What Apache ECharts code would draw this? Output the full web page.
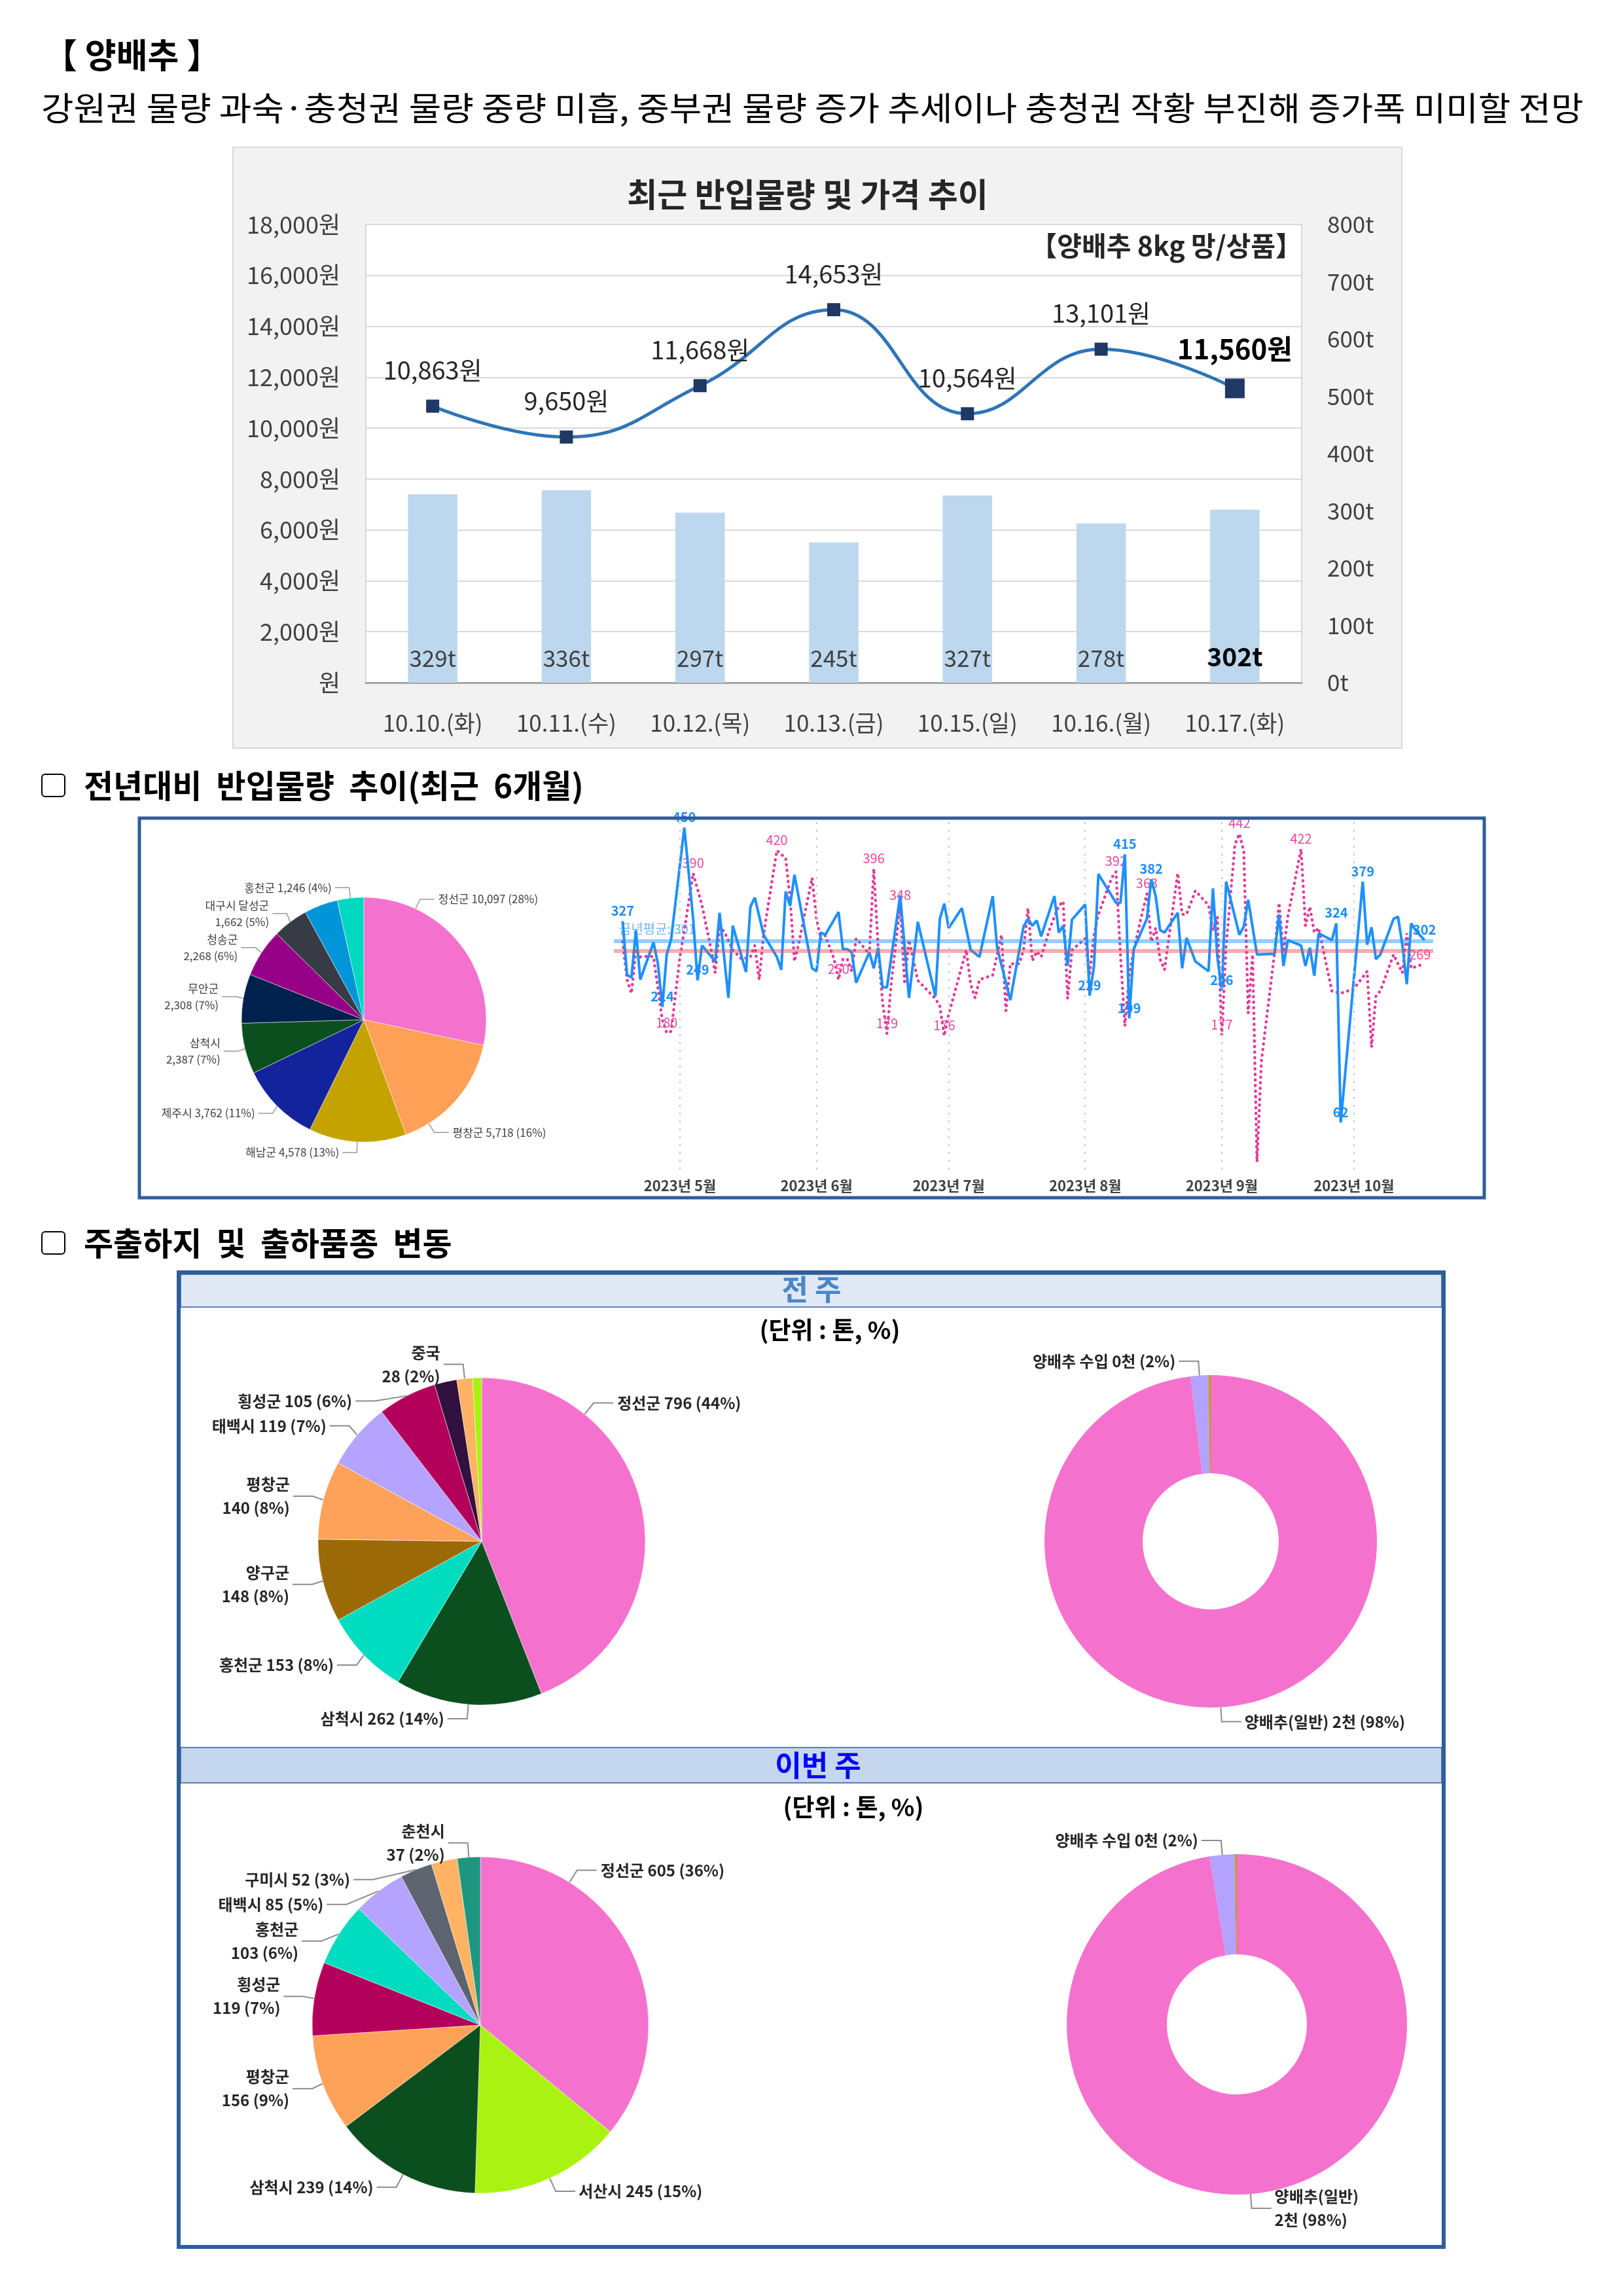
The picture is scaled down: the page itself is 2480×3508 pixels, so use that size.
<!DOCTYPE html>
<html><head><meta charset="utf-8">
<script src="https://cdn.jsdelivr.net/npm/echarts@6/dist/echarts.min.js"></script>
<style>html,body{margin:0;padding:0;background:#fff}#c{width:2480px;height:3508px}</style>
</head><body><div id="c"></div>
<script>
const FONT = '"Noto Sans CJK KR","Noto Sans",sans-serif';

// ---------- top chart: recent arrivals & price ----------
const dates = ['10.10.(화)','10.11.(수)','10.12.(목)','10.13.(금)','10.15.(일)','10.16.(월)','10.17.(화)'];
const prices = [10863, 9650, 11668, 14653, 10564, 13101, 11560];
const volumes = [329, 336, 297, 245, 327, 278, 302];

// ---------- 6-month arrivals: [day index from 2023-04-16, tons] ----------
const monthStarts = [15, 46, 76, 107, 138, 168];
const monthLabels = ['2023년 5월','2023년 6월','2023년 7월','2023년 8월','2023년 9월','2023년 10월'];
const thisYear = [[2,327],[3,256],[4,253],[5,315],[6,250],[9,299],[10,271],[11,214],[12,283],[13,303],[16,450],[18,330],[19,249],[20,295],[23,274],[24,338],[26,226],[27,321],[30,260],[31,346],[32,358],[34,309],[37,280],[38,263],[39,366],[40,347],[41,388],[45,265],[46,261],[47,312],[48,309],[51,339],[52,290],[53,290],[54,286],[55,246],[58,286],[59,265],[60,292],[61,240],[62,240],[65,361],[67,226],[69,326],[73,228],[74,330],[75,350],[76,318],[79,344],[81,289],[83,280],[86,360],[87,292],[90,223],[93,320],[94,330],[95,321],[96,328],[97,307],[100,360],[101,312],[102,321],[103,268],[104,329],[107,349],[108,229],[109,268],[110,389],[114,351],[115,351],[116,415],[117,199],[118,290],[121,330],[122,382],[123,360],[124,315],[125,312],[128,338],[129,265],[130,305],[132,274],[135,261],[136,370],[137,280],[138,236],[139,379],[142,309],[143,320],[144,355],[146,283],[150,284],[151,336],[152,268],[153,302],[156,295],[157,268],[158,292],[159,255],[160,311],[163,302],[164,324],[165,62],[170,379],[171,296],[172,319],[173,277],[174,283],[177,330],[178,333],[179,296],[180,244],[181,324],[182,315],[184,302]];
const lastYear = [[2,300],[3,250],[4,232],[5,290],[6,280],[8,281],[9,280],[11,197],[12,180],[13,182],[15,280],[16,315],[18,390],[20,348],[22,292],[23,259],[24,318],[25,314],[27,289],[29,277],[31,280],[32,295],[33,250],[34,310],[37,420],[39,410],[40,357],[41,274],[42,298],[43,327],[45,384],[46,330],[47,303],[48,308],[50,277],[51,250],[52,277],[53,277],[54,261],[55,304],[56,298],[58,283],[59,396],[60,292],[61,220],[62,179],[63,247],[65,348],[66,244],[67,302],[69,249],[73,225],[74,215],[75,176],[76,204],[80,289],[81,244],[82,226],[83,250],[86,256],[88,309],[89,209],[90,271],[92,271],[93,289],[94,344],[95,275],[96,287],[97,280],[99,318],[101,347],[102,353],[103,225],[104,289],[107,304],[108,256],[109,309],[110,336],[113,384],[114,392],[115,283],[116,189],[117,256],[118,289],[120,339],[121,363],[122,300],[123,318],[124,277],[125,263],[128,390],[129,336],[130,336],[132,367],[135,348],[136,315],[137,333],[138,177],[139,295],[141,428],[142,442],[143,419],[144,206],[145,283],[146,10],[147,143],[150,286],[151,351],[152,286],[153,333],[156,422],[157,321],[158,346],[159,312],[160,318],[163,235],[165,232],[168,238],[171,261],[172,161],[173,229],[174,235],[177,283],[178,271],[179,259],[180,311],[181,265],[183,269]];
const thisYearLabelDays = [2,11,16,19,108,116,117,122,138,164,165,170,184];
const lastYearLabelDays = [12,18,37,51,59,62,65,75,114,121,138,142,156,183];
const thisYearAvg = 301;
const lastYearAvg = 288;

// ---------- 6-month origin pie ----------
const originNames = ['정선군','평창군','해남군','제주시','삼척시','무안군','청송군','대구시 달성군','기타','홍천군'];
const originValues = [10097,5718,4578,3762,2387,2308,2268,1662,1580,1246];
const originPct = [28,16,13,11,7,7,6,5,null,4];
const originColors = ['#f472ce','#ffa057','#c4a300','#12239c','#0b4f1f','#00204e','#960087','#373b46','#0094d8','#00d9bf'];
const originBreak = [false,false,false,false,true,true,true,true,false,false];

// ---------- previous week ----------
const prevNames = ['정선군','삼척시','홍천군','양구군','평창군','태백시','횡성군','기타1','중국','기타2'];
const prevValues = [796,262,153,148,140,119,105,40,28,16];
const prevPct = [44,14,8,8,8,7,6,null,2,null];
const prevColors = ['#f472ce','#0b4f1f','#00dcc0','#9b6a06','#ffa259','#b4a3ff','#b3005b','#321141','#ffb363','#a8f20f'];
const prevBreak = [false,false,false,true,true,false,false,false,true,false];
const prevKindNames = ['양배추(일반)','양배추 수입','기타'];
const prevKindValues = [1772,31,4];
const prevKindText = ['2천','0천',''];
const prevKindPct = [98,2,null];

// ---------- this week ----------
const curNames = ['정선군','서산시','삼척시','평창군','횡성군','홍천군','태백시','구미시','기타','춘천시'];
const curValues = [605,245,239,156,119,103,85,52,42,37];
const curPct = [36,15,14,9,7,6,5,3,null,2];
const curColors = ['#f472ce','#aaf212','#0b4f1f','#ffa259','#b3005b','#00dcc0','#b4a3ff','#5d6470','#ffb363','#1e9680'];
const curBreak = [false,false,false,true,true,true,false,false,false,true];
const curKindNames = ['양배추(일반)','양배추 수입','기타'];
const curKindValues = [1640,40,3];
const curKindText = ['2천','0천',''];
const curKindPct = [98,2,null];
const kindColors = ['#f472ce','#b3a2ff','#c59a00'];

const fmt = v => v.toLocaleString('en-US');

function pieData(names, values, colors, pct) {
  return names.map((n, i) => {
    const d = {name: n, value: values[i], itemStyle: {color: colors[i]}};
    if (pct[i] == null) { d.label = {show: false}; d.labelLine = {show: false}; }
    return d;
  });
}

// place a pie label at a chosen angle on the rim (Excel-like "best fit" look)
function anchored(cx, cy, r, angDeg, len1, len2) {
  const a = angDeg * Math.PI / 180, sx = Math.sin(a), sy = -Math.cos(a);
  const p0 = [cx + r * sx, cy + r * sy];
  const p1 = [p0[0] + len1 * sx, p0[1] + len1 * sy];
  const dir = sx >= 0 ? 1 : -1;
  const p2 = [p1[0] + dir * len2, p1[1]];
  return {x: p2[0] + dir * 6, y: p2[1], align: dir > 0 ? 'left' : 'right', verticalAlign: 'middle', labelLinePoints: [p0, p1, p2]};
}

const chart = echarts.init(document.getElementById('c'), null, {renderer: 'canvas', width: 2480, height: 3508});

const lastIdx = dates.length - 1;
const priceData = prices.map((v, i) => i === lastIdx ? {
  value: v, symbolSize: 30,
  label: {fontWeight: 'bold', fontSize: 42, color: '#000', distance: 24}
} : v);
const volData = volumes.map((v, i) => i === lastIdx ? {
  value: v, label: {fontWeight: 'bold', fontSize: 39, color: '#000'}
} : v);

const blueData = thisYear.map(([d, v]) => thisYearLabelDays.includes(d) ? {value: [d, v], label: {show: true}} : {value: [d, v]});
const pinkData = lastYear.map(([d, v]) => lastYearLabelDays.includes(d) ? {value: [d, v], label: {show: true}} : {value: [d, v]});

const monthLines = monthStarts.map(m => ({xAxis: m, lineStyle: {type: [3, 9], color: '#c8c8c8', width: 2}, label: {show: false}}));

const pieLabelBig = {fontSize: 24, fontWeight: 'bold', color: '#262626', lineHeight: 36, fontFamily: FONT};
const pieLineBig = {length: 22, length2: 30, lineStyle: {color: '#8c8c8c', width: 2}};

const option = {
  animation: false,
  textStyle: {fontFamily: FONT},
  graphic: [
    {type: 'rect', z: -10, shape: {x: 356, y: 225, width: 1786, height: 918}, style: {fill: '#f2f2f2', stroke: '#d9d9d9', lineWidth: 2}},
    {type: 'text', z: 50, x: 66, y: 84, style: {text: '【 양배추 】', font: 'bold 52px ' + FONT, fill: '#000', verticalAlign: 'middle', textVerticalAlign: 'middle'}},
    {type: 'text', z: 50, x: 63, y: 165, scaleX: 1.077, style: {text: '강원권 물량 과숙·충청권 물량 중량 미흡, 중부권 물량 증가 추세이나 충청권 작황 부진해 증가폭 미미할 전망', font: '50px ' + FONT, fill: '#000', verticalAlign: 'middle', textVerticalAlign: 'middle'}},
    {type: 'text', z: 50, x: 1234, y: 297, style: {text: '최근 반입물량 및 가격 추이', font: 'bold 50px ' + FONT, fill: '#262626', align: 'center', textAlign: 'center', verticalAlign: 'middle', textVerticalAlign: 'middle'}},
    {type: 'text', z: 50, x: 1990, y: 375, style: {text: '【양배추 8kg 망/상품】', font: 'bold 41px ' + FONT, fill: '#262626', align: 'right', textAlign: 'right', verticalAlign: 'middle', textVerticalAlign: 'middle'}},
    // section 2 heading
    {type: 'rect', z: 50, shape: {x: 64, y: 1183, width: 35, height: 34, r: 5}, style: {fill: 'none', stroke: '#000', lineWidth: 2}},
    {type: 'text', z: 50, x: 128, y: 1200, style: {text: '전년대비  반입물량  추이(최근  6개월)', font: 'bold 49px ' + FONT, fill: '#000', verticalAlign: 'middle', textVerticalAlign: 'middle'}},
    {type: 'rect', z: 50, shape: {x: 213, y: 1250, width: 2055, height: 580}, style: {fill: 'none', stroke: '#2f5e98', lineWidth: 5}},
    // section 3 heading
    {type: 'rect', z: 50, shape: {x: 64, y: 1882, width: 35, height: 34, r: 5}, style: {fill: 'none', stroke: '#000', lineWidth: 2}},
    {type: 'text', z: 50, x: 128, y: 1899, style: {text: '주출하지  및  출하품종  변동', font: 'bold 49px ' + FONT, fill: '#000', verticalAlign: 'middle', textVerticalAlign: 'middle'}},
    {type: 'rect', z: -5, shape: {x: 276, y: 1947, width: 1927, height: 50}, style: {fill: '#dfe8f4', stroke: '#2f5e98', lineWidth: 1.5}},
    {type: 'text', z: 50, x: 1240, y: 1970, style: {text: '전 주', font: 'bold 44px ' + FONT, fill: '#4a86c8', align: 'center', textAlign: 'center', verticalAlign: 'middle', textVerticalAlign: 'middle'}},
    {type: 'rect', z: -5, shape: {x: 276, y: 2670, width: 1927, height: 54}, style: {fill: '#c5d7ee', stroke: '#2f5e98', lineWidth: 1.5}},
    {type: 'text', z: 50, x: 1250, y: 2697, style: {text: '이번 주', font: 'bold 44px ' + FONT, fill: '#0000ff', align: 'center', textAlign: 'center', verticalAlign: 'middle', textVerticalAlign: 'middle'}},
    {type: 'text', z: 50, x: 1268, y: 2032, style: {text: '(단위 : 톤, %)', font: 'bold 37px ' + FONT, fill: '#000', align: 'center', textAlign: 'center', verticalAlign: 'middle', textVerticalAlign: 'middle'}},
    {type: 'text', z: 50, x: 1304, y: 2761, style: {text: '(단위 : 톤, %)', font: 'bold 37px ' + FONT, fill: '#000', align: 'center', textAlign: 'center', verticalAlign: 'middle', textVerticalAlign: 'middle'}},
    {type: 'rect', z: 50, shape: {x: 273, y: 1944, width: 1933, height: 1489}, style: {fill: 'none', stroke: '#2f5e98', lineWidth: 6}}
  ],
  grid: [
    {left: 559, top: 343, width: 1430, height: 700, show: true, backgroundColor: '#fff', borderColor: '#d9d9d9', borderWidth: 2},
    {left: 938, top: 1253, width: 1252, height: 534}
  ],
  xAxis: [
    {type: 'category', gridIndex: 0, data: dates, axisLine: {lineStyle: {color: '#a6a6a6', width: 3}}, axisTick: {show: false},
     axisLabel: {color: '#404040', fontSize: 35, margin: 44, interval: 0, hideOverlap: false}},
    {type: 'value', gridIndex: 1, min: 0, max: 186, axisLine: {show: false}, axisTick: {show: false}, splitLine: {show: false},
     axisLabel: {customValues: monthStarts, formatter: v => { const k = monthStarts.indexOf(Math.round(v)); return k >= 0 ? monthLabels[k] : ''; },
                 color: '#404040', fontSize: 22, fontWeight: 'bold', margin: 14}}
  ],
  yAxis: [
    {type: 'value', gridIndex: 0, min: 0, max: 18000, interval: 2000, axisLine: {show: false}, axisTick: {show: false},
     splitLine: {lineStyle: {color: '#d9d9d9', width: 2}},
     axisLabel: {formatter: v => v === 0 ? '원' : fmt(v) + '원', color: '#404040', fontSize: 36, margin: 39}},
    {type: 'value', gridIndex: 0, min: 0, max: 800, interval: 100, position: 'right', axisLine: {show: false}, axisTick: {show: false},
     splitLine: {show: false}, axisLabel: {formatter: '{value}t', color: '#404040', fontSize: 35, margin: 39}},
    {type: 'value', gridIndex: 1, min: 0, max: 460, show: false}
  ],
  series: [
    {type: 'bar', xAxisIndex: 0, yAxisIndex: 1, data: volData, barWidth: '37%', itemStyle: {color: '#bdd7ee'},
     label: {show: true, position: 'insideBottom', distance: 20, formatter: '{c}t', fontSize: 35, color: '#404040'}},
    {type: 'line', xAxisIndex: 0, yAxisIndex: 0, data: priceData, smooth: 0.45, symbol: 'rect', symbolSize: 20,
     itemStyle: {color: '#1f3864'}, lineStyle: {color: '#2e75b6', width: 5},
     label: {show: true, position: 'top', distance: 26, formatter: p => fmt(p.value) + '원', fontSize: 38, color: '#262626'}},
    {type: 'line', name: '금년', xAxisIndex: 1, yAxisIndex: 2, data: blueData, symbol: 'circle', symbolSize: 0.1, showSymbol: true,
     lineStyle: {color: '#1e90ff', width: 4}, itemStyle: {color: '#1e90ff'}, z: 4,
     label: {show: false, position: 'top', distance: 6, fontSize: 20, fontWeight: 'bold', color: '#1e8cf5', formatter: p => p.value[1]},
     markLine: {silent: true, symbol: ['none', 'none'],
       data: [
         {yAxis: thisYearAvg, lineStyle: {color: 'rgba(30,144,255,0.45)', width: 6, type: 'solid'},
          label: {show: true, position: 'insideStartTop', formatter: '금년평균: ' + thisYearAvg, color: 'rgba(30,144,255,0.65)', fontSize: 20, distance: 8}},
         {yAxis: thisYearAvg, lineStyle: {opacity: 0}, label: {show: true, position: 'end', formatter: '금년', color: '#5aa5f0', fontSize: 20, distance: 10}}
       ].concat(monthLines)}},
    {type: 'line', name: '전년', xAxisIndex: 1, yAxisIndex: 2, data: pinkData, symbol: 'circle', symbolSize: 0.1, showSymbol: true,
     lineStyle: {color: '#e2399a', width: 4.5, type: [0.5, 8], cap: 'round'}, itemStyle: {color: '#e2399a'}, z: 3,
     label: {show: false, position: 'top', distance: 6, fontSize: 20, color: '#e8489f', formatter: p => p.value[1]},
     markLine: {silent: true, symbol: ['none', 'none'],
       data: [
         {yAxis: lastYearAvg, lineStyle: {color: 'rgba(220,80,90,0.45)', width: 6, type: 'solid'}, label: {show: false}},
         {yAxis: lastYearAvg, lineStyle: {opacity: 0}, label: {show: true, position: 'end', formatter: '\n전년', color: '#e8489f', fontSize: 20, lineHeight: 38, distance: 10}}
       ]}},
    {type: 'pie', center: [556, 1558], radius: 187, startAngle: 90, clockwise: true,
     data: pieData(originNames, originValues, originColors, originPct),
     itemStyle: {borderColor: 'rgba(255,255,255,0.5)', borderWidth: 1},
     label: {show: true, fontSize: 17, color: '#404040', lineHeight: 25,
       formatter: p => { const i = p.dataIndex; if (originPct[i] == null) return ''; return originNames[i] + (originBreak[i] ? '\n' : ' ') + fmt(originValues[i]) + ' (' + originPct[i] + '%)'; }},
     labelLine: {length: 16, length2: 22, lineStyle: {color: '#999', width: 1.5}},
     labelLayout: p => p.dataIndex === 0 ? anchored(556, 1558, 187, 25, 16, 22) : (p.dataIndex === 1 ? anchored(556, 1558, 187, 148, 16, 22) : {})},
    {type: 'pie', center: [736, 2355], radius: 250, startAngle: 90,
     data: pieData(prevNames, prevValues, prevColors, prevPct),
     itemStyle: {borderColor: 'rgba(255,255,255,0.5)', borderWidth: 1},
     label: Object.assign({show: true, formatter: p => { const i = p.dataIndex; if (prevPct[i] == null) return ''; return prevNames[i] + (prevBreak[i] ? '\n' : ' ') + prevValues[i] + ' (' + prevPct[i] + '%)'; }}, pieLabelBig),
     labelLine: pieLineBig,
     labelLayout: p => p.dataIndex === 0 ? anchored(736, 2355, 250, 39, 22, 30) : {}},
    {type: 'pie', center: [1850, 2355], radius: [104, 254], startAngle: 90,
     data: pieData(prevKindNames, prevKindValues, kindColors, prevKindPct),
     label: Object.assign({show: true, formatter: p => { const i = p.dataIndex; if (prevKindPct[i] == null) return ''; return prevKindNames[i] + ' ' + prevKindText[i] + ' (' + prevKindPct[i] + '%)'; }}, pieLabelBig),
     labelLine: pieLineBig},
    {type: 'pie', center: [734, 3094], radius: 257, startAngle: 90,
     data: pieData(curNames, curValues, curColors, curPct),
     itemStyle: {borderColor: 'rgba(255,255,255,0.5)', borderWidth: 1},
     label: Object.assign({show: true, formatter: p => { const i = p.dataIndex; if (curPct[i] == null) return ''; return curNames[i] + (curBreak[i] ? '\n' : ' ') + curValues[i] + ' (' + curPct[i] + '%)'; }}, pieLabelBig),
     labelLine: pieLineBig,
     labelLayout: p => p.dataIndex === 0 ? anchored(734, 3094, 257, 32, 22, 30) : {}},
    {type: 'pie', center: [1890, 3093], radius: [107, 260], startAngle: 90,
     data: pieData(curKindNames, curKindValues, kindColors, curKindPct),
     label: Object.assign({show: true, formatter: p => { const i = p.dataIndex; if (curKindPct[i] == null) return ''; return curKindNames[i] + (i === 0 ? '\n' : ' ') + curKindText[i] + ' (' + curKindPct[i] + '%)'; }}, pieLabelBig),
     labelLine: pieLineBig}
  ]
};
chart.setOption(option);
</script>
</body></html>
